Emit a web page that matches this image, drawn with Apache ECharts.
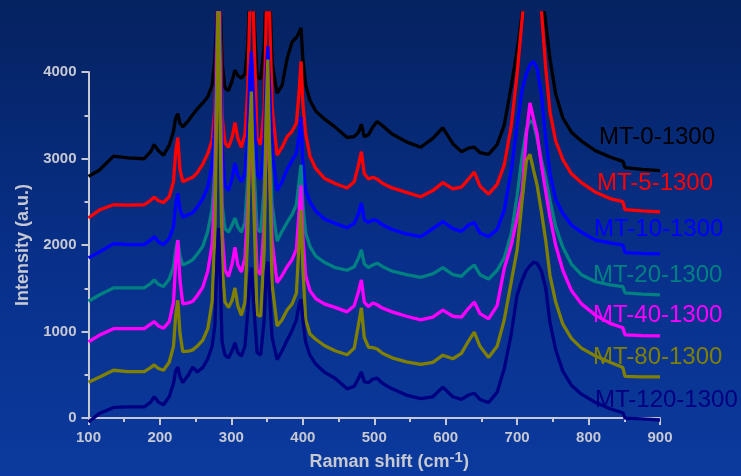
<!DOCTYPE html>
<html>
<head>
<meta charset="utf-8">
<script src="https://cdn.jsdelivr.net/npm/echarts@6/dist/echarts.min.js"></script>
<style>
html,body{margin:0;padding:0;}
#chart{width:741px;height:476px;background:linear-gradient(to bottom,#052260 0%,#08308a 55%,#0b3a9e 100%);}
</style>
</head>
<body>
<div id="chart"></div>
<script>
// Raman shift positions (cm-1) at which each spectrum was read
const ramanShift = [100,115,135,155,178,187,192,198,205,213,219,222,225,228,232,240,246,252,260,267,273,277,280,282,284,287,291,296,301,305,309,314,319,323,326,328,331,336,341,346,349,351,353,357,364,371,378,385,391,395,397.5,400,404,410,418,430,445,462,472,478,482,486,492,498,504,512,525,545,565,582,596,610,622,632,640,648,660,672,682,692,700,707,713,718,723,728,734,740,746,754,764,776,790,810,830,848,851,875,900];

const mt0 = [2820,2890,3050,3030,3020,3100,3180,3110,3060,3170,3330,3480,3530,3420,3380,3450,3520,3580,3650,3720,3850,4150,4700,5500,4800,4100,3820,3790,3900,4020,3960,3930,3980,4300,5000,5500,4700,3950,3920,4300,5000,5600,5000,4100,3760,3850,4150,4340,4390,4450,4500,4150,3850,3680,3560,3470,3380,3260,3270,3320,3410,3270,3290,3380,3440,3390,3300,3210,3150,3250,3370,3190,3100,3140,3150,3090,3070,3180,3400,3850,4250,4650,5100,5400,5500,5300,4950,4550,4150,3750,3480,3320,3220,3110,3040,2990,2920,2900,2885];

const mt5 = [2350,2440,2500,2495,2500,2550,2585,2545,2525,2590,2760,3100,3260,2900,2760,2790,2810,2860,2960,3080,3230,3600,4500,5500,4700,3500,3200,3150,3260,3430,3250,3150,3300,3800,4800,5500,4600,3250,3180,3600,4700,5500,4800,3600,3060,3150,3270,3330,3420,3800,4120,3650,3300,3050,2910,2800,2740,2690,2760,2950,3100,2850,2790,2810,2790,2740,2690,2640,2590,2660,2750,2680,2700,2790,2870,2710,2620,2730,2950,3400,3980,4600,5100,5300,5300,5100,4700,4050,3550,3220,3010,2850,2750,2640,2570,2535,2445,2430,2420];

const mt10 = [1900,1965,2060,2050,2050,2100,2140,2080,2050,2120,2250,2500,2630,2450,2360,2390,2410,2470,2570,2700,2950,3400,4500,5300,4500,3100,2720,2660,2800,2970,2830,2760,2850,3300,4000,4230,3700,2850,2790,3200,4000,4290,3900,3100,2660,2760,2900,3000,3080,3300,3490,3000,2660,2530,2430,2340,2290,2240,2290,2400,2520,2330,2300,2330,2320,2270,2220,2170,2140,2230,2310,2230,2200,2270,2300,2180,2140,2220,2440,2900,3400,3800,3980,4080,4120,4040,3750,3250,2850,2560,2400,2270,2190,2100,2070,2045,1960,1950,1945];

const mt20 = [1410,1480,1560,1560,1560,1610,1650,1600,1575,1660,1800,1980,2100,1920,1820,1850,1880,1940,2030,2200,2450,2900,4200,5200,4200,2500,2230,2190,2270,2350,2250,2190,2300,2800,3400,3500,3000,2230,2190,2700,3500,3700,3300,2500,2090,2200,2300,2390,2500,2780,2950,2500,2180,2030,1920,1850,1790,1760,1800,1900,1990,1830,1790,1820,1840,1800,1750,1710,1680,1720,1790,1710,1690,1770,1820,1710,1660,1760,1900,2180,2600,3050,3350,3450,3420,3250,3000,2800,2550,2250,2020,1830,1710,1630,1595,1575,1505,1490,1482];

const mt40 = [950,1025,1100,1100,1100,1150,1180,1130,1105,1180,1400,1850,2100,1650,1380,1390,1410,1470,1570,1750,2050,2700,4200,5200,4000,2200,1760,1690,1830,2020,1820,1740,1900,2500,3200,3350,2700,1760,1710,2300,3300,3550,3000,2100,1620,1700,1800,1880,2000,2450,2720,2150,1700,1530,1440,1380,1340,1290,1360,1520,1650,1400,1350,1390,1370,1330,1290,1240,1200,1230,1310,1240,1230,1330,1400,1270,1210,1360,1780,2050,2350,2650,3300,3650,3470,3300,2950,2650,2360,2040,1760,1530,1380,1250,1160,1110,1030,1022,1018];

const mt80 = [495,550,630,615,615,660,690,650,630,720,900,1250,1420,1050,840,845,860,900,970,1100,1400,2200,4000,5200,3600,1800,1400,1340,1420,1560,1360,1250,1400,2200,3400,3780,2600,1260,1240,2000,3600,4140,3200,1600,1130,1200,1310,1380,1500,2100,2440,1800,1200,1040,980,910,850,805,880,1150,1335,1000,890,885,870,820,770,725,695,720,800,760,820,960,1060,900,775,900,1200,1640,1990,2550,3000,3070,2890,2720,2420,2100,1700,1400,1150,990,880,790,720,660,560,556,554];

const mt120 = [45,140,210,215,215,270,330,270,240,330,480,620,665,560,490,580,665,610,660,760,900,1150,1900,2240,1800,950,800,770,850,940,830,790,900,1300,1700,1790,1400,830,800,1200,1750,1855,1550,1000,750,850,970,1080,1200,1380,1430,1200,950,800,700,610,540,420,450,540,610,500,490,530,540,480,420,350,310,330,440,330,300,350,370,300,265,380,650,1050,1480,1650,1760,1810,1850,1840,1750,1560,1170,860,620,460,360,265,195,150,90,80,68];

const seriesNames = ['MT-0-1300','MT-5-1300','MT-10-1300','MT-20-1300','MT-40-1300','MT-80-1300','MT-120-1300'];
const seriesValues = [mt0, mt5, mt10, mt20, mt40, mt80, mt120];
const seriesColors = ['#000000','#ff0000','#0000ff','#008080','#ff00ff','#808000','#000080'];
const xTicks = [100,200,300,400,500,600,700,800,900];
const yTicks = [0,1000,2000,3000,4000];

const axisGray = '#c6c8d2';
const FONT = '"Liberation Sans", Arial, sans-serif';

// Layout (pixels)
const gridLeft = 88.5, gridRight = 81, gridBottom = 50, axisTop = 72, plotTop = 13;
const yZeroPx = 476 - gridBottom;
const yDataMax = yTicks[yTicks.length-1] * (yZeroPx - plotTop) / (yZeroPx - axisTop);

const labelPos = [[599,137],[597,183],[594,229],[593,275],[593,315],[593,357],[595,400]];

const chart = echarts.init(document.getElementById('chart'), null, {renderer:'canvas'});

const series = seriesValues.map((vals, k) => ({
  name: seriesNames[k],
  type: 'line',
  xAxisIndex: 1,
  yAxisIndex: 1,
  showSymbol: false,
  symbol: 'none',
  smooth: false,
  clip: true,
  lineStyle: {color: seriesColors[k], width: 3.3},
  data: ramanShift.map((x, i) => [x, vals[i]])
}));

const option = {
  backgroundColor: 'transparent',
  animation: false,
  grid: [
    {left: gridLeft, right: gridRight, top: axisTop, bottom: gridBottom, containLabel: false},
    {left: gridLeft, right: gridRight, top: plotTop, bottom: gridBottom, containLabel: false}
  ],
  xAxis: [
    {
      gridIndex: 0, type: 'value', min: xTicks[0], max: xTicks[xTicks.length-1], interval: 100,
      axisLine: {show: true, lineStyle: {color: axisGray, width: 2}},
      axisTick: {show: true, length: 7, lineStyle: {color: axisGray, width: 2}},
      minorTick: {show: true, splitNumber: 2, length: 4, lineStyle: {color: axisGray, width: 2}},
      splitLine: {show: false},
      axisLabel: {color: axisGray, fontSize: 15, fontWeight: 'bold', fontFamily: FONT, margin: 12, formatter: v => String(v)},
      name: '{a|Raman shift (cm}{s|-1}{a|)}',
      nameLocation: 'middle',
      nameGap: 30,
      nameTextStyle: {
        color: axisGray, fontFamily: FONT, fontWeight: 'bold', fontSize: 18,
        padding: [0,0,0,30],
        rich: {
          a: {color: axisGray, fontFamily: FONT, fontWeight: 'bold', fontSize: 18},
          s: {color: axisGray, fontFamily: FONT, fontWeight: 'bold', fontSize: 15, verticalAlign: 'bottom', padding: [0,0,9,0]}
        }
      }
    },
    {gridIndex: 1, type: 'value', min: xTicks[0], max: xTicks[xTicks.length-1], show: false}
  ],
  yAxis: [
    {
      gridIndex: 0, type: 'value', min: yTicks[0], max: yTicks[yTicks.length-1], interval: 1000,
      axisLine: {show: true, lineStyle: {color: axisGray, width: 2}},
      axisTick: {show: true, length: 7, lineStyle: {color: axisGray, width: 2}},
      minorTick: {show: true, splitNumber: 2, length: 4, lineStyle: {color: axisGray, width: 2}},
      splitLine: {show: false},
      axisLabel: {color: axisGray, fontSize: 15, fontWeight: 'bold', fontFamily: FONT, margin: 12, formatter: v => String(v)},
      name: 'Intensity (a.u.)',
      nameLocation: 'middle',
      nameGap: 56,
      nameTextStyle: {color: axisGray, fontFamily: FONT, fontWeight: 'bold', fontSize: 18}
    },
    {gridIndex: 1, type: 'value', min: 0, max: yDataMax, show: false}
  ],
  series: series,
  graphic: seriesNames.map((n, k) => ({
    type: 'text',
    x: labelPos[k][0],
    y: labelPos[k][1],
    z: 100,
    style: {text: n, fill: seriesColors[k], font: '24px ' + FONT, verticalAlign: 'middle', align: 'left'}
  }))
};
chart.setOption(option);
</script>
</body>
</html>
